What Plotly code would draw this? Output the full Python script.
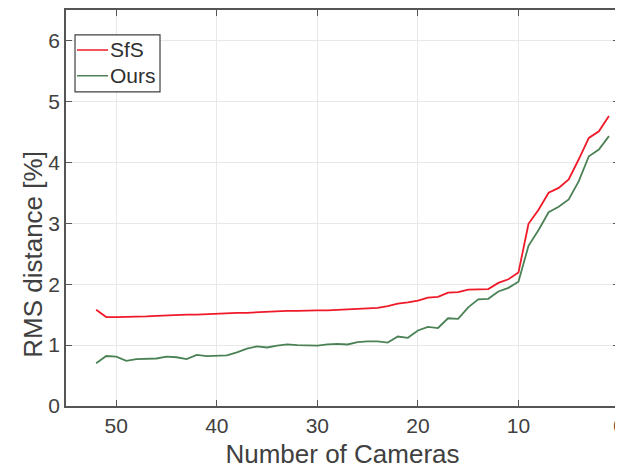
import plotly.graph_objects as go

cameras = list(range(52, 0, -1))
sfs = [1.58, 1.46, 1.46, 1.46, 1.46, 1.47, 1.48, 1.49, 1.50, 1.50,
       1.50, 1.51, 1.51, 1.52, 1.53, 1.53, 1.54, 1.55, 1.55, 1.56,
       1.56, 1.57, 1.57, 1.57, 1.58, 1.59, 1.60, 1.60, 1.61, 1.64,
       1.68, 1.70, 1.73, 1.78, 1.79, 1.86, 1.87, 1.91, 1.92, 1.92,
       2.02, 2.08, 2.19, 2.99, 3.22, 3.50, 3.58, 3.72, 4.05, 4.40,
       4.51, 4.76]
ours = [0.70, 0.82, 0.81, 0.74, 0.77, 0.77, 0.78, 0.81, 0.80, 0.77,
        0.84, 0.82, 0.82, 0.83, 0.88, 0.94, 0.98, 0.96, 0.99, 1.01,
        1.00, 1.00, 0.99, 1.01, 1.02, 1.01, 1.05, 1.06, 1.06, 1.04,
        1.14, 1.12, 1.24, 1.30, 1.28, 1.44, 1.43, 1.62, 1.75, 1.76,
        1.88, 1.94, 2.04, 2.63, 2.89, 3.18, 3.27, 3.39, 3.69, 4.10,
        4.21, 4.43]
series_names = ["SfS", "Ours"]
series_colors = ["rgb(240,25,40)", "rgb(75,130,85)"]
x_ticks = [0, 10, 20, 30, 40, 50]
y_ticks = [0, 1, 2, 3, 4, 5, 6]
x_title = "Number of Cameras"
y_title = "RMS distance [%]"

font_family = "Liberation Sans, Arial, sans-serif"
text_col = "#404040"

fig = go.Figure()
for name, vals, col in zip(series_names, [sfs, ours], series_colors):
    fig.add_trace(go.Scatter(x=cameras, y=vals, mode="lines", name=name,
                             line=dict(color=col, width=1.8)))

axis_common = dict(showline=True, linecolor="#555555", linewidth=1.5,
                   mirror="ticks", ticks="inside", ticklen=6, tickwidth=1.2,
                   tickcolor="#555555", showgrid=True, automargin=False,
                   gridcolor="#e8e8e8", gridwidth=1, zeroline=False,
                   ticklabeloverflow="allow",
                   tickfont=dict(size=21, color=text_col, family=font_family))

fig.update_xaxes(range=[55, 0], tickvals=x_ticks,
                 title=dict(text=x_title,
                            font=dict(size=26, color=text_col, family=font_family),
                            standoff=9),
                 **axis_common)
fig.update_yaxes(range=[0, 6.5], tickvals=y_ticks, **axis_common)

# Legend box drawn MATLAB-style (paper coordinates)
shapes = [dict(type="rect", xref="paper", yref="paper",
               x0=0.0163, x1=0.170, y0=0.793, y1=0.937,
               line=dict(color="#404040", width=1.2), fillcolor="white",
               layer="above")]
annotations = [dict(xref="paper", yref="paper", x=-0.06, y=0.384,
                    xanchor="center", yanchor="middle", textangle=-90,
                    text=y_title, showarrow=False,
                    font=dict(size=26, color=text_col, family=font_family))]
legend_rows_y = [0.899, 0.834]
for name, col, yy in zip(series_names, series_colors, legend_rows_y):
    shapes.append(dict(type="line", xref="paper", yref="paper",
                       x0=0.0199, x1=0.0759, y0=yy, y1=yy,
                       line=dict(color=col, width=1.5), layer="above"))
    annotations.append(dict(xref="paper", yref="paper", x=0.0785, y=yy,
                            xanchor="left", yanchor="middle", text=name,
                            showarrow=False, borderpad=0,
                            font=dict(size=21, color="#303030", family=font_family)))

# page body has an 8px margin, so the figure is shrunk and offset to keep
# the plot area where the reference has it
fig.update_layout(
    width=615, height=466,
    margin=dict(l=58, r=4, t=2, b=68),
    plot_bgcolor="white", paper_bgcolor="white",
    showlegend=False,
    shapes=shapes, annotations=annotations,
)

fig.write_html("out.html")
